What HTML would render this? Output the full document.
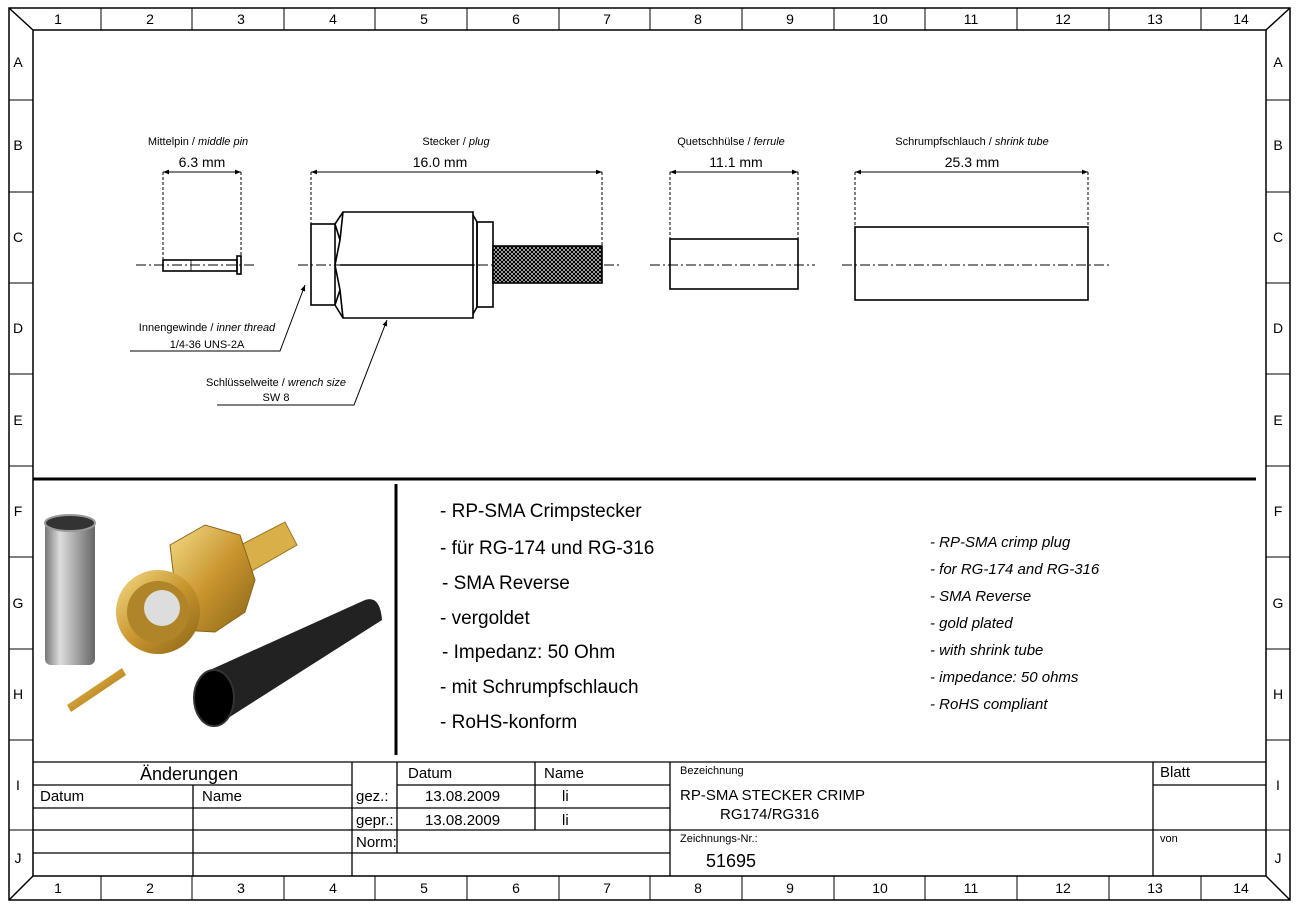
<!DOCTYPE html>
<html><head><meta charset="utf-8"><style>
html,body{margin:0;padding:0;background:#fff;}
svg{display:block;font-family:"Liberation Sans",sans-serif;}
</style></head><body>
<svg width="1315" height="920" viewBox="0 0 1315 920" xmlns="http://www.w3.org/2000/svg">
<defs>
<pattern id="kn" width="4" height="4" patternUnits="userSpaceOnUse">
<rect width="4" height="4" fill="#fff"/><path d="M0 0L4 4M4 0L0 4" stroke="#000" stroke-width="1.3"/>
</pattern>
<linearGradient id="silver" x1="0" x2="1"><stop offset="0" stop-color="#777"/><stop offset="0.3" stop-color="#ddd"/><stop offset="0.6" stop-color="#aaa"/><stop offset="1" stop-color="#666"/></linearGradient>
<linearGradient id="gold" x1="0" x2="1" y1="0" y2="1"><stop offset="0" stop-color="#f4dc8a"/><stop offset="0.5" stop-color="#c9962e"/><stop offset="1" stop-color="#8a6418"/></linearGradient>
<marker id="ar" viewBox="0 0 10 10" refX="10" refY="5" markerWidth="10" markerHeight="6" orient="auto-start-reverse"><path d="M0 1L10 5L0 9z" fill="#000"/></marker>
</defs>
<g fill="none" stroke="#000" stroke-width="1.5">
<rect x="9" y="8" width="1281" height="892"/>
<rect x="33" y="30" width="1233" height="846"/>
<line x1="9" y1="8" x2="33" y2="30"/><line x1="1290" y1="8" x2="1266" y2="30"/>
<line x1="9" y1="900" x2="33" y2="876"/><line x1="1290" y1="900" x2="1266" y2="876"/>
</g>
<g stroke="#000" stroke-width="1">
<line x1="101" y1="8" x2="101" y2="30"/><line x1="192" y1="8" x2="192" y2="30"/><line x1="284" y1="8" x2="284" y2="30"/><line x1="375" y1="8" x2="375" y2="30"/><line x1="467" y1="8" x2="467" y2="30"/><line x1="559" y1="8" x2="559" y2="30"/><line x1="650" y1="8" x2="650" y2="30"/><line x1="742" y1="8" x2="742" y2="30"/><line x1="834" y1="8" x2="834" y2="30"/><line x1="925" y1="8" x2="925" y2="30"/><line x1="1017" y1="8" x2="1017" y2="30"/><line x1="1109" y1="8" x2="1109" y2="30"/><line x1="1201" y1="8" x2="1201" y2="30"/>
<line x1="101" y1="876" x2="101" y2="900"/><line x1="192" y1="876" x2="192" y2="900"/><line x1="284" y1="876" x2="284" y2="900"/><line x1="375" y1="876" x2="375" y2="900"/><line x1="467" y1="876" x2="467" y2="900"/><line x1="559" y1="876" x2="559" y2="900"/><line x1="650" y1="876" x2="650" y2="900"/><line x1="742" y1="876" x2="742" y2="900"/><line x1="834" y1="876" x2="834" y2="900"/><line x1="925" y1="876" x2="925" y2="900"/><line x1="1017" y1="876" x2="1017" y2="900"/><line x1="1109" y1="876" x2="1109" y2="900"/><line x1="1201" y1="876" x2="1201" y2="900"/>
<line x1="9" y1="100" x2="33" y2="100"/><line x1="9" y1="192" x2="33" y2="192"/><line x1="9" y1="283" x2="33" y2="283"/><line x1="9" y1="374" x2="33" y2="374"/><line x1="9" y1="466" x2="33" y2="466"/><line x1="9" y1="557" x2="33" y2="557"/><line x1="9" y1="649" x2="33" y2="649"/><line x1="9" y1="740" x2="33" y2="740"/><line x1="9" y1="830" x2="33" y2="830"/>
<line x1="1266" y1="100" x2="1290" y2="100"/><line x1="1266" y1="192" x2="1290" y2="192"/><line x1="1266" y1="283" x2="1290" y2="283"/><line x1="1266" y1="374" x2="1290" y2="374"/><line x1="1266" y1="466" x2="1290" y2="466"/><line x1="1266" y1="557" x2="1290" y2="557"/><line x1="1266" y1="649" x2="1290" y2="649"/><line x1="1266" y1="740" x2="1290" y2="740"/><line x1="1266" y1="830" x2="1290" y2="830"/>
</g>
<g font-size="14" text-anchor="middle" fill="#000">
<text x="58" y="24">1</text><text x="150" y="24">2</text><text x="241" y="24">3</text><text x="333" y="24">4</text><text x="424" y="24">5</text><text x="516" y="24">6</text><text x="607" y="24">7</text><text x="698" y="24">8</text><text x="790" y="24">9</text><text x="880" y="24">10</text><text x="971" y="24">11</text><text x="1063" y="24">12</text><text x="1155" y="24">13</text><text x="1241" y="24">14</text>
<text x="58" y="893">1</text><text x="150" y="893">2</text><text x="241" y="893">3</text><text x="333" y="893">4</text><text x="424" y="893">5</text><text x="516" y="893">6</text><text x="607" y="893">7</text><text x="698" y="893">8</text><text x="790" y="893">9</text><text x="880" y="893">10</text><text x="971" y="893">11</text><text x="1063" y="893">12</text><text x="1155" y="893">13</text><text x="1241" y="893">14</text>
<g font-size="14"><text x="18" y="67">A</text><text x="18" y="150">B</text><text x="18" y="242">C</text><text x="18" y="333">D</text><text x="18" y="425">E</text><text x="18" y="516">F</text><text x="18" y="608">G</text><text x="18" y="699">H</text><text x="18" y="790">I</text><text x="18" y="863">J</text>
<text x="1278" y="67">A</text><text x="1278" y="150">B</text><text x="1278" y="242">C</text><text x="1278" y="333">D</text><text x="1278" y="425">E</text><text x="1278" y="516">F</text><text x="1278" y="608">G</text><text x="1278" y="699">H</text><text x="1278" y="790">I</text><text x="1278" y="863">J</text></g>
</g>
<g font-size="11" text-anchor="middle" fill="#000">
<text x="198" y="145">Mittelpin / <tspan font-style="italic">middle pin</tspan></text>
<text x="456" y="145">Stecker / <tspan font-style="italic">plug</tspan></text>
<text x="731" y="145">Quetschhülse / <tspan font-style="italic">ferrule</tspan></text>
<text x="972" y="145">Schrumpfschlauch / <tspan font-style="italic">shrink tube</tspan></text>
<g font-size="14"><text x="202" y="167">6.3 mm</text><text x="440" y="167">16.0 mm</text><text x="736" y="167">11.1 mm</text><text x="972" y="167">25.3 mm</text></g>
<text x="207" y="331">Innengewinde / <tspan font-style="italic">inner thread</tspan></text>
<text x="207" y="348">1/4-36 UNS-2A</text>
<text x="276" y="386">Schlüsselweite / <tspan font-style="italic">wrench size</tspan></text>
<text x="276" y="401">SW 8</text>
</g>
<g fill="none" stroke="#000" stroke-width="1">
<g stroke-dasharray="10,3,2,3">
<line x1="136" y1="265" x2="256" y2="265"/><line x1="298" y1="265" x2="622" y2="265"/><line x1="650" y1="265" x2="815" y2="265"/><line x1="842" y1="265" x2="1110" y2="265"/>
</g>
<g stroke-dasharray="3,2">
<line x1="163" y1="172" x2="163" y2="260"/><line x1="241" y1="172" x2="241" y2="256"/>
<line x1="311" y1="172" x2="311" y2="224"/><line x1="602" y1="172" x2="602" y2="246"/>
<line x1="670" y1="172" x2="670" y2="239"/><line x1="798" y1="172" x2="798" y2="239"/>
<line x1="855" y1="172" x2="855" y2="227"/><line x1="1088" y1="172" x2="1088" y2="227"/>
</g>
<line x1="163" y1="172" x2="241" y2="172" marker-start="url(#ar)" marker-end="url(#ar)"/>
<line x1="311" y1="172" x2="602" y2="172" marker-start="url(#ar)" marker-end="url(#ar)"/>
<line x1="670" y1="172" x2="798" y2="172" marker-start="url(#ar)" marker-end="url(#ar)"/>
<line x1="855" y1="172" x2="1088" y2="172" marker-start="url(#ar)" marker-end="url(#ar)"/>
<polyline points="130,351 280,351 305,285" marker-end="url(#ar)"/>
<polyline points="217,405 354,405 387,320" marker-end="url(#ar)"/>
</g>
<g fill="none" stroke="#000" stroke-width="1.6">
<rect x="163" y="260" width="74" height="11"/><rect x="237" y="256" width="4" height="18"/>
<line x1="191" y1="260" x2="191" y2="271" stroke-width="0.8"/>
<rect x="311" y="224" width="24" height="81"/>
<path d="M335 224 L343 212 L473 212 L473 318 L343 318 L335 305 M335 224 L340 240 L335 265 L340 290 L335 305 M343 212 L340 240 M343 318 L340 290"/>
<line x1="340" y1="265" x2="473" y2="265"/>
<path d="M473 215 L477 222 L477 307 L473 314"/>
<rect x="477" y="222" width="16" height="85"/>
<rect x="493" y="246" width="109" height="37" fill="url(#kn)"/>
<rect x="670" y="239" width="128" height="50"/>
<rect x="855" y="227" width="233" height="73"/>
</g>
<line x1="33" y1="479" x2="1256" y2="479" stroke="#000" stroke-width="3"/>
<line x1="396" y1="484" x2="396" y2="755" stroke="#000" stroke-width="3"/>
<rect x="45" y="522" width="50" height="143" rx="6" fill="url(#silver)"/>
<ellipse cx="70" cy="523" rx="25" ry="8" fill="#333" stroke="#999" stroke-width="2"/>
<path d="M67 705 L122 668 L126 675 L71 712z" fill="url(#gold)"/>
<path d="M235 548 L285 522 L297 545 L250 572z" fill="#d9b048" stroke="#9a7420"/>
<polygon points="170,545 205,525 240,535 255,580 245,612 215,632 180,630" fill="url(#gold)" stroke="#8a6418"/>
<circle cx="158" cy="612" r="42" fill="url(#gold)"/>
<circle cx="158" cy="612" r="31" fill="#b08428"/>
<circle cx="162" cy="608" r="18" fill="#ddd"/>
<path d="M210 670 L365 600 Q380 595 382 620 L225 720z" fill="#222"/>
<ellipse cx="214" cy="698" rx="20" ry="28" fill="#000" stroke="#333" stroke-width="2"/>
<g font-size="19" fill="#000">
<text x="440" y="517">- RP-SMA Crimpstecker</text>
<text x="440" y="554">- für RG-174 und RG-316</text>
<text x="442" y="589">- SMA Reverse</text>
<text x="440" y="624">- vergoldet</text>
<text x="442" y="658">- Impedanz: 50 Ohm</text>
<text x="440" y="693">- mit Schrumpfschlauch</text>
<text x="440" y="728">- RoHS-konform</text>
</g>
<g font-size="15" font-style="italic" fill="#000">
<text x="930" y="547">- RP-SMA crimp plug</text>
<text x="930" y="574">- for RG-174 and RG-316</text>
<text x="930" y="601">- SMA Reverse</text>
<text x="930" y="628">- gold plated</text>
<text x="930" y="655">- with shrink tube</text>
<text x="930" y="682">- impedance: 50 ohms</text>
<text x="930" y="709">- RoHS compliant</text>
</g>
<g stroke="#000" stroke-width="1.3" fill="none">
<line x1="33" y1="762" x2="1266" y2="762"/>
<line x1="33" y1="785" x2="352" y2="785"/><line x1="397" y1="785" x2="670" y2="785"/><line x1="1153" y1="785" x2="1266" y2="785"/>
<line x1="33" y1="808" x2="670" y2="808"/>
<line x1="33" y1="830" x2="1266" y2="830"/>
<line x1="33" y1="853" x2="670" y2="853"/>
<line x1="193" y1="785" x2="193" y2="876"/>
<line x1="352" y1="762" x2="352" y2="876"/>
<line x1="397" y1="762" x2="397" y2="853"/>
<line x1="535" y1="762" x2="535" y2="830"/>
<line x1="670" y1="762" x2="670" y2="876"/>
<line x1="1153" y1="762" x2="1153" y2="876"/>
</g>
<g fill="#000" font-size="15">
<text x="140" y="780" font-size="18">Änderungen</text>
<text x="40" y="801">Datum</text><text x="202" y="801">Name</text>
<text x="356" y="801">gez.:</text><text x="356" y="825">gepr.:</text><text x="356" y="847">Norm:</text>
<text x="408" y="778">Datum</text><text x="544" y="778">Name</text>
<text x="425" y="801">13.08.2009</text><text x="562" y="801">li</text>
<text x="425" y="825">13.08.2009</text><text x="562" y="825">li</text>
<text x="680" y="774" font-size="11">Bezeichnung</text>
<text x="680" y="800">RP-SMA STECKER CRIMP</text>
<text x="720" y="819">RG174/RG316</text>
<text x="680" y="842" font-size="11">Zeichnungs-Nr.:</text>
<text x="706" y="867" font-size="18">51695</text>
<text x="1160" y="777">Blatt</text>
<text x="1160" y="842" font-size="11">von</text>
</g>
</svg>
</body></html>
